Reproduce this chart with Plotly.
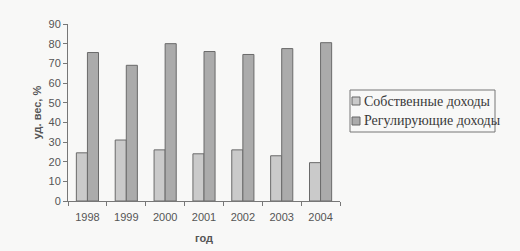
import plotly.graph_objects as go

years = ["1998", "1999", "2000", "2001", "2002", "2003", "2004"]
own_income = [24.5, 31, 26, 24, 26, 23, 19.5]
regulating_income = [75.5, 69, 80, 76, 74.5, 77.5, 80.5]
series_names = ["Собственные доходы", "Регулирующие доходы"]
series_colors = ["#cacaca", "#ababab"]

fig = go.Figure()
fig.add_trace(go.Bar(x=years, y=own_income, name=series_names[0],
                     marker=dict(color=series_colors[0], line=dict(color="#6a6a6a", width=1))))
fig.add_trace(go.Bar(x=years, y=regulating_income, name=series_names[1],
                     marker=dict(color=series_colors[1], line=dict(color="#6a6a6a", width=1))))

# plot area in pixels: x 68..340, y 24..201
def px(x):
    return (x - 68) / 272

def py(y):
    return (201 - y) / 177

shapes = [dict(type="rect", xref="paper", yref="paper",
               x0=px(350), x1=px(495), y0=py(132), y1=py(90),
               line=dict(color="#777", width=1), fillcolor="rgba(0,0,0,0)")]
annotations = []
for i, (name, col) in enumerate(zip(series_names, series_colors)):
    cy = 101 + 20 * i
    shapes.append(dict(type="rect", xref="paper", yref="paper",
                       x0=px(352), x1=px(360), y0=py(cy + 4), y1=py(cy - 4),
                       line=dict(color="#666", width=1), fillcolor=col))
    annotations.append(dict(xref="paper", yref="paper", x=px(362), y=py(cy),
                            xanchor="left", yanchor="middle", showarrow=False, text=name,
                            font=dict(family="Liberation Serif, Times New Roman", size=14, color="#3a3a3a")))

fig.update_layout(
    width=520, height=251,
    margin=dict(l=68, r=180, t=24, b=50),
    paper_bgcolor="#f8f8f7", plot_bgcolor="#f8f8f7",
    barmode="group", bargap=0.43, bargroupgap=0,
    font=dict(family="Liberation Sans, Arial", size=11, color="#555"),
    showlegend=False,
    shapes=shapes, annotations=annotations,
    xaxis=dict(showline=True, linecolor="#777", linewidth=1, ticks="outside", automargin=False,
               tickson="boundaries", ticklen=4, tickcolor="#777", ticklabelstandoff=6,
               title=dict(text="<b>год</b>", font=dict(size=11, color="#555"), standoff=12)),
    yaxis=dict(range=[0, 90], dtick=10, showline=True, linecolor="#777", linewidth=1, automargin=False,
               ticks="outside", ticklen=4, tickcolor="#777", showgrid=False, zeroline=False,
               title=dict(text="<b>уд. вес, %</b>", font=dict(size=11, color="#555"), standoff=4)),
)

fig.write_html("out.html")
